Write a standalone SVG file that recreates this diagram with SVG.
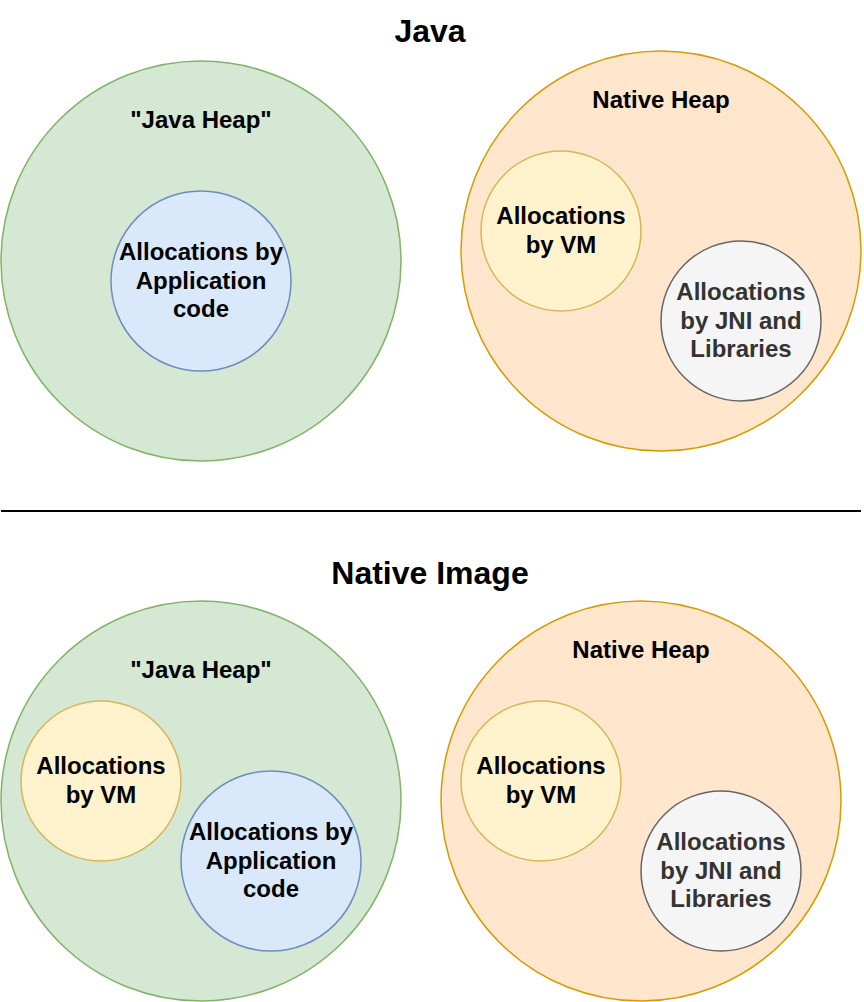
<svg xmlns="http://www.w3.org/2000/svg" width="864" height="1002" viewBox="0 0 864 1002">
<style>
text{font-family:"Liberation Sans",Arial,Helvetica,sans-serif;font-weight:bold;text-anchor:middle;fill:#000}
.t{font-size:32px}
.l{font-size:24px}
.gray{fill:#333333}
circle{stroke-width:1.5}
.green{fill:#d5e8d4;stroke:#82b366}
.blue{fill:#dae8fc;stroke:#6c8ebf}
.orange{fill:#ffe6cc;stroke:#d79b00}
.yellow{fill:#fff2cc;stroke:#d6b656}
.grey{fill:#f5f5f5;stroke:#666666}
</style>
<rect width="864" height="1002" fill="#ffffff"/>
<g id="title-java"><text class="t" x="430" y="42">Java</text></g>
<g id="java-heap-1">
<circle class="green" cx="201" cy="261" r="200"/>
<text class="l" x="201" y="128">"Java Heap"</text>
</g>
<g id="app-code-1">
<circle class="blue" cx="201" cy="281" r="90"/>
<text class="l" x="201" y="260">Allocations by</text>
<text class="l" x="201" y="289">Application</text>
<text class="l" x="201" y="317">code</text>
</g>
<g id="native-heap-1">
<circle class="orange" cx="661" cy="251" r="200"/>
<text class="l" x="661" y="108">Native Heap</text>
</g>
<g id="vm-1">
<circle class="yellow" cx="561" cy="231" r="80"/>
<text class="l" x="561" y="224">Allocations</text>
<text class="l" x="561" y="253">by VM</text>
</g>
<g id="jni-1">
<circle class="grey" cx="741" cy="321" r="80"/>
<text class="l gray" x="741" y="300">Allocations</text>
<text class="l gray" x="741" y="329">by JNI and</text>
<text class="l gray" x="741" y="357">Libraries</text>
</g>
<g id="connectors">
<line x1="1" y1="511" x2="861" y2="511" stroke="#000" stroke-width="2"/>
</g>
<g id="title-native"><text class="t" x="430" y="584">Native Image</text></g>
<g id="java-heap-2">
<circle class="green" cx="201" cy="801" r="200"/>
<text class="l" x="201" y="678">"Java Heap"</text>
</g>
<g id="vm-2">
<circle class="yellow" cx="101" cy="781" r="80"/>
<text class="l" x="101" y="774">Allocations</text>
<text class="l" x="101" y="803">by VM</text>
</g>
<g id="app-code-2">
<circle class="blue" cx="271" cy="861" r="90"/>
<text class="l" x="271" y="840">Allocations by</text>
<text class="l" x="271" y="869">Application</text>
<text class="l" x="271" y="897">code</text>
</g>
<g id="native-heap-2">
<circle class="orange" cx="641" cy="801" r="200"/>
<text class="l" x="641" y="658">Native Heap</text>
</g>
<g id="vm-3">
<circle class="yellow" cx="541" cy="781" r="80"/>
<text class="l" x="541" y="774">Allocations</text>
<text class="l" x="541" y="803">by VM</text>
</g>
<g id="jni-2">
<circle class="grey" cx="721" cy="871" r="80"/>
<text class="l gray" x="721" y="850">Allocations</text>
<text class="l gray" x="721" y="879">by JNI and</text>
<text class="l gray" x="721" y="907">Libraries</text>
</g>
</svg>
